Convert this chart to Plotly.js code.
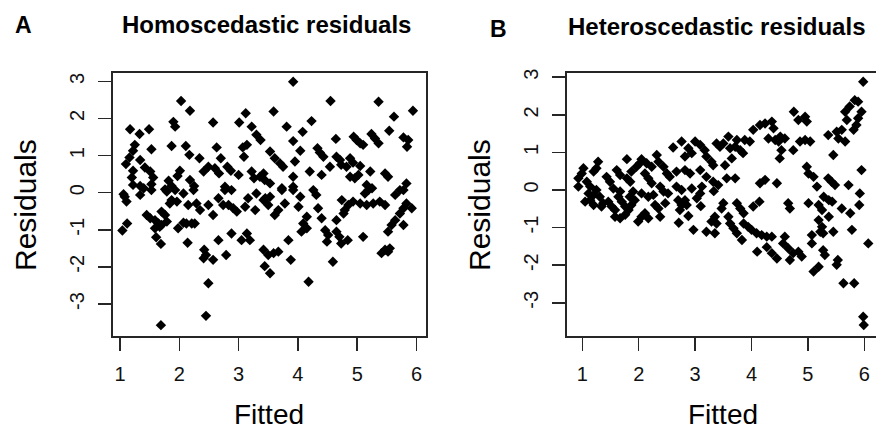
<!DOCTYPE html>
<html><head><meta charset="utf-8">
<script src="https://cdn.plot.ly/plotly-3.0.1.min.js"></script>
<style>html,body{margin:0;padding:0;background:#fff;overflow:hidden}</style>
</head><body><div id="chart" style="width:876px;height:431px"></div>
<script>
// ---------- data ----------
const homX = [
 2.03,2.18,1.17,1.33,1.49,1.90,1.93,2.57,3.01,3.12,
 3.22,3.30,3.37,1.25,1.22,1.53,1.87,2.11,2.17,2.34,
 2.63,2.70,3.07,3.14,3.09,1.16,1.10,1.34,1.42,1.22,
 1.20,1.51,1.56,2.01,1.97,1.82,1.87,1.76,2.18,2.25,
 2.41,2.49,2.60,2.67,2.81,2.87,3.00,3.22,3.26,3.42,
 1.22,1.34,1.40,1.53,2.77,
 1.08,1.11,1.06,1.34,1.53,1.79,1.93,1.87,1.84,1.96,
 2.07,2.15,2.29,2.35,2.24,2.49,2.57,2.66,2.77,2.88,
 2.74,2.83,2.91,2.97,3.11,3.16,3.28,3.30,3.45,1.45,
 1.51,1.59,1.70,1.76,1.65,1.70,1.79,1.59,1.67,1.12,
 1.04,1.61,1.69,1.98,2.07,2.12,2.21,2.26,2.14,2.42,
 2.45,2.41,2.57,2.66,2.79,2.88,3.05,3.14,3.19,2.49,
 2.45,1.69,
 3.92,4.55,5.36,5.94,3.59,5.62,4.23,3.81,4.08,5.54,
 4.64,3.92,4.94,4.99,5.05,5.10,5.24,5.30,5.36,5.78,
 5.86,5.84,3.53,3.61,3.70,3.75,4.04,4.33,4.37,4.43,
 4.65,4.71,3.95,4.88,4.93,4.54,4.20,4.73,4.82,5.05,
 4.40,5.22,5.47,5.52,3.36,3.44,3.53,3.92,4.88,4.96,
 5.02,3.73,3.92,5.83,5.78,5.16,5.25,
 3.42,3.50,3.53,3.73,3.92,4.04,4.26,4.31,3.78,3.67,
 3.61,4.01,4.34,4.40,4.15,4.09,4.15,4.06,4.65,4.46,
 4.51,4.49,4.65,4.70,4.73,4.84,3.84,5.10,3.42,3.50,
 3.59,3.67,3.44,3.53,3.88,4.59,4.18,4.74,4.85,4.93,
 5.05,5.16,5.27,5.38,5.47,4.79,4.77,5.13,5.19,5.64,
 5.72,5.83,5.92,5.78,5.72,5.64,5.58,5.52,5.78,5.41,
 5.47,5.52,5.55
];
const homY = [
 2.47,2.21,1.71,1.58,1.71,1.91,1.78,1.89,1.89,2.14,
 1.78,1.56,1.42,1.29,1.13,1.17,1.26,1.26,1.02,0.93,
 1.22,0.93,1.22,1.29,0.97,0.95,0.77,0.88,0.68,0.59,
 0.41,0.57,0.41,0.59,0.45,0.32,0.18,0.09,0.34,0.18,
 0.57,0.70,0.66,0.52,0.70,0.59,0.48,0.57,0.39,0.52,
 0.21,0.18,0.12,0.23,0.16,
 -0.11,-0.24,-0.04,-0.06,0.07,0.03,0.07,-0.20,-0.29,-0.24,
 -0.02,-0.33,-0.29,-0.47,0.07,-0.33,-0.60,-0.15,0.07,0.07,
 -0.33,-0.33,-0.42,-0.51,-0.38,-0.15,-0.47,-0.02,-0.15,-0.60,
 -0.69,-0.74,-0.51,-0.60,-0.83,-0.87,-0.78,-0.96,-0.92,-0.83,
 -1.02,-1.20,-1.38,-0.96,-0.81,-0.83,-0.83,-0.83,-1.35,-1.54,
 -1.68,-1.77,-1.81,-1.28,-1.68,-1.10,-1.28,-1.10,-1.28,-2.44,
 -3.32,-3.57,
 2.99,2.47,2.45,2.21,2.19,2.05,1.93,1.78,1.64,1.67,
 1.45,1.39,1.51,1.42,1.33,1.29,1.58,1.46,1.33,1.49,
 1.42,1.24,1.11,0.93,0.79,0.70,1.13,1.20,1.08,0.97,
 0.97,0.88,0.84,0.93,0.81,0.70,0.57,0.75,0.70,0.72,
 0.48,0.57,0.52,0.43,0.43,0.34,0.25,0.43,0.43,0.39,
 0.48,0.12,0.16,0.25,0.07,0.21,0.12,
 -0.20,-0.33,-0.11,0.07,0.07,-0.11,0.07,-0.06,-0.29,-0.47,
 -0.60,-0.38,-0.42,-0.69,-0.65,-0.83,-0.96,-1.05,-0.74,-1.01,
 -1.14,-1.32,-1.05,-1.19,-1.37,-1.28,-1.28,-1.19,-1.54,-1.68,
 -1.63,-1.59,-1.98,-2.17,-1.81,-1.86,-2.40,-0.20,-0.33,-0.24,
 -0.29,-0.33,-0.29,-0.24,-0.33,-0.47,-0.56,-0.02,0.07,-0.06,
 0.07,-0.29,-0.42,-0.42,-0.56,-0.74,-0.87,-1.05,-0.87,-1.63,
 -1.54,-1.59,-1.50
];
const hetX = [
 2.76,2.61,3.00,3.09,3.17,2.88,2.94,2.82,3.20,3.38,
 1.79,2.32,2.05,2.14,2.23,2.35,2.44,2.50,2.55,1.28,
 1.25,1.20,1.02,0.99,0.93,1.61,1.67,1.87,1.96,2.02,
 1.79,1.85,2.11,2.17,2.23,1.43,1.49,1.08,1.14,0.93,
 2.67,2.82,2.91,2.38,2.44,3.09,3.20,3.32,3.32,3.29,
 2.67,2.76,2.94,3.12,3.41,1.25,1.55,1.67,
 1.05,1.14,1.20,1.11,1.20,1.31,1.37,1.34,1.46,1.52,
 1.58,1.64,1.70,1.76,1.58,1.67,1.76,1.82,1.87,1.93,
 1.84,1.90,1.99,2.05,2.11,2.17,2.05,2.17,2.26,2.29,
 2.35,2.38,2.47,2.52,2.70,2.76,2.73,2.71,2.82,2.85,
 2.88,2.97,3.03,3.09,3.10,3.20,
 5.98,5.83,5.74,5.66,5.69,5.89,5.95,5.89,5.86,5.81,
 4.75,4.83,4.95,4.98,4.03,4.15,4.24,4.36,4.39,4.30,
 4.42,4.51,4.59,4.53,4.50,4.48,3.97,3.88,3.74,3.71,
 3.62,3.50,3.44,3.59,3.85,3.80,3.65,3.53,5.36,5.51,
 5.60,5.66,5.54,5.45,4.74,4.86,4.95,5.04,4.98,5.01,
 5.10,5.95,5.36,5.48,5.42,5.72,3.56,3.71,4.15,4.24,
 4.45,5.16,
 3.33,3.50,3.47,3.35,3.29,3.38,3.35,3.59,3.62,3.68,
 3.74,3.83,3.74,3.80,3.86,4.03,4.14,3.86,3.94,4.00,
 4.09,4.18,4.27,4.36,4.10,4.27,4.36,4.45,4.59,4.56,
 4.65,4.68,4.74,4.83,4.89,4.65,4.68,5.01,5.19,5.25,
 5.28,5.37,5.43,5.37,5.19,5.25,5.22,5.07,5.07,5.27,
 5.45,5.27,5.30,5.10,5.19,5.53,5.51,5.63,5.82,5.60,
 5.75,5.78,5.92,5.91,6.07,5.98,5.99
];
const hetY = [
 1.29,1.13,1.29,1.20,1.06,1.11,0.98,0.89,0.89,1.24,
 0.82,0.93,0.82,0.71,0.62,0.75,0.62,0.44,0.35,0.75,
 0.58,0.49,0.58,0.44,0.31,0.53,0.40,0.49,0.62,0.71,
 0.31,0.22,0.44,0.31,0.18,0.35,0.22,0.22,0.09,0.09,
 0.49,0.53,0.44,0.09,-0.04,0.53,0.35,0.22,0.66,0.75,
 0.09,0.00,0.04,0.09,0.13,0.00,0.04,-0.04,
 -0.31,-0.27,-0.40,-0.09,-0.13,-0.18,-0.35,-0.44,-0.31,-0.44,
 -0.53,-0.18,-0.31,-0.44,-0.71,-0.75,-0.66,-0.53,-0.40,-0.27,
 -0.18,-0.04,-0.84,-0.71,-0.62,-0.75,-0.09,-0.18,-0.13,-0.40,
 -0.49,-0.71,-0.35,-0.09,-0.27,-0.40,-0.53,-0.87,-0.27,-0.40,
 -0.69,-1.06,-0.22,-0.09,-0.43,-1.11,
 2.88,2.39,2.22,2.08,1.86,2.35,2.08,1.91,1.73,1.60,
 2.08,1.86,1.95,1.82,1.60,1.73,1.77,1.82,1.64,1.37,
 1.33,1.42,1.37,1.06,0.84,1.29,1.29,1.33,1.33,1.15,
 1.11,1.24,1.15,1.42,0.98,1.06,0.84,0.66,1.46,1.55,
 1.60,1.29,1.37,0.93,1.06,1.29,1.33,1.29,0.62,0.44,
 0.35,0.53,0.31,0.13,0.22,0.13,0.31,0.31,0.18,0.27,
 0.18,0.09,
 -0.03,-0.35,-0.49,-0.71,-0.84,-0.89,-1.15,-0.71,-0.89,-1.02,
 -1.15,-1.33,-0.35,-0.49,-0.62,-0.44,-0.31,-0.89,-0.98,-1.06,
 -1.15,-1.20,-1.24,-1.24,-1.64,-1.52,-1.68,-1.82,-1.24,-1.42,
 -1.55,-1.86,-1.68,-1.64,-1.77,-0.35,-0.49,-0.35,-0.40,-0.53,
 -0.18,-0.27,-0.31,-0.71,-0.80,-0.98,-1.11,-1.20,-1.42,-1.15,
 -1.11,-1.60,-1.73,-2.17,-2.04,-1.86,-1.99,-2.48,-2.48,-0.49,
 -0.62,-1.06,-0.09,-0.40,-1.42,-3.37,-3.59
];
const xTicks = [1, 2, 3, 4, 5, 6];
const yTicks = [-3, -2, -1, 0, 1, 2, 3];
const panelLetters = ['A', 'B'];
const panelTitles = ['Homoscedastic residuals', 'Heteroscedastic residuals'];
const xLabel = 'Fitted';
const yLabel = 'Residuals';

// ---------- layout ----------
const W = 876, H = 431;
const fx = p => p / W, fy = p => 1 - p / H;
const FONT = 'Liberation Sans, Arial, Helvetica, sans-serif';
const LINE = '#262626';

function xAxis(d0, d1, r0, r1, anchor) {
  return {domain: [fx(d0), fx(d1)], range: [r0, r1], anchor,
    tickvals: xTicks, ticktext: xTicks.map(String),
    ticks: 'outside', ticklen: 13, tickwidth: 1.5, tickcolor: LINE,
    showline: true, linecolor: LINE, linewidth: 2, mirror: true,
    showgrid: false, zeroline: false, ticklabelstandoff: 6,
    tickfont: {family: FONT, size: 20, color: '#111'}};
}
function yAxis(t, b, r0, r1, anchor, mirror) {
  return {domain: [fy(b), fy(t)], range: [r0, r1], anchor,
    tickvals: yTicks, ticktext: yTicks.map(String), tickangle: -90,
    ticks: 'outside', ticklen: 13, tickwidth: 1.5, tickcolor: LINE,
    showline: true, linecolor: LINE, linewidth: 2, mirror,
    showgrid: false, zeroline: false, ticklabelstandoff: 6,
    tickfont: {family: FONT, size: 20, color: '#111'}};
}
const marker = {symbol: 'diamond', size: 8, color: '#000', line: {width: 0}};
const data = [
  {x: homX, y: homY, type: 'scatter', mode: 'markers', marker, xaxis: 'x', yaxis: 'y'},
  {x: hetX, y: hetY, type: 'scatter', mode: 'markers', marker, xaxis: 'x2', yaxis: 'y2'}
];
function ann(text, xp, yp, size, bold, angle) {
  return {text: bold ? '<b>' + text + '</b>' : text, xref: 'paper', yref: 'paper',
    x: fx(xp), y: fy(yp), xanchor: 'center', yanchor: 'middle', showarrow: false,
    textangle: angle || 0, font: {family: FONT, size, color: '#000'}};
}
const layout = {
  width: W, height: H, margin: {l: 0, r: 0, t: 0, b: 0},
  paper_bgcolor: '#fff', plot_bgcolor: '#fff', showlegend: false, hovermode: false,
  xaxis: xAxis(112.7, 425.7, 0.877, 6.155, 'y'),
  yaxis: yAxis(73.3, 336, -3.863, 3.218, 'x', true),
  xaxis2: xAxis(566.7, 876, 0.723, 6.207, 'y2'),
  yaxis2: yAxis(73.3, 336, -3.883, 3.104, 'x2', false),
  annotations: [
    ann(panelLetters[0], 23.5, 25, 23, true),
    ann(panelTitles[0], 266.5, 25, 24, true),
    ann(panelLetters[1], 498.5, 28.5, 23, true),
    ann(panelTitles[1], 716.5, 26, 24, true),
    ann(yLabel, 25, 205, 30, false, -90),
    ann(yLabel, 479, 205, 30, false, -90),
    ann(xLabel, 269, 414, 28, false),
    ann(xLabel, 722.7, 414, 28, false)
  ]
};
Plotly.newPlot('chart', data, layout, {staticPlot: true, displayModeBar: false});
</script>
</body></html>
